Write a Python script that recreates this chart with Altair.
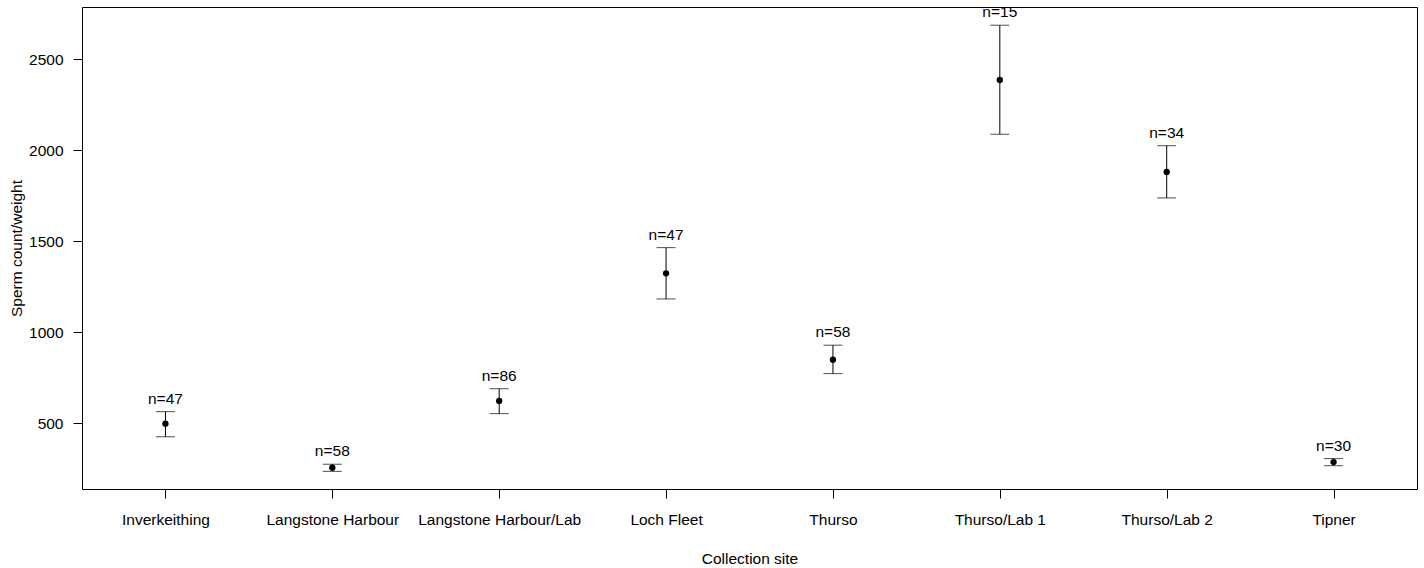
import altair as alt
import pandas as pd

sites = ["Inverkeithing", "Langstone Harbour", "Langstone Harbour/Lab", "Loch Fleet",
         "Thurso", "Thurso/Lab 1", "Thurso/Lab 2", "Tipner"]
means = [498, 256, 623, 1324, 849, 2386, 1881, 287]
upper = [564, 275, 690, 1465, 929, 2687, 2025, 306]
lower = [426, 236, 553, 1183, 773, 2088, 1738, 267]
counts = [47, 58, 86, 47, 58, 15, 34, 30]
labels = ["n=%d" % c for c in counts]

df = pd.DataFrame({"site": sites, "mean": means, "upper": upper, "lower": lower, "label": labels})

FONT = "Liberation Sans"

x_enc = alt.X("site:N", sort=sites, scale=alt.Scale(type="point", padding=0.5),
              axis=alt.Axis(title="Collection site", labelAngle=0, labelPadding=14,
                            titleY=74, titleBaseline="alphabetic"))
y_scale = alt.Scale(domain=[139, 2787], nice=False, zero=False)

base = alt.Chart(df)

bars = base.mark_rule(color="#000", strokeWidth=1).encode(
    x=x_enc,
    y=alt.Y("lower:Q", scale=y_scale,
            axis=alt.Axis(title="Sperm count/weight", values=[500, 1000, 1500, 2000, 2500],
                          format="d", labelPadding=10, titleX=-61, titleBaseline="alphabetic",
                          titleAngle=-90)),
    y2="upper:Q",
)
cap_hi = base.mark_tick(color="#000", thickness=1, size=19).encode(
    x=alt.X("site:N", sort=sites), y=alt.Y("upper:Q"))
cap_lo = base.mark_tick(color="#000", thickness=1, size=19).encode(
    x=alt.X("site:N", sort=sites), y=alt.Y("lower:Q"))
pts = base.mark_circle(color="#000", opacity=1, size=40).encode(
    x=alt.X("site:N", sort=sites), y=alt.Y("mean:Q"))
txt = base.mark_text(font=FONT, fontSize=15.5, color="#000", baseline="alphabetic", dy=-8).encode(
    x=alt.X("site:N", sort=sites), y=alt.Y("upper:Q"), text="label:N")

chart = alt.layer(bars, cap_hi, cap_lo, pts, txt).properties(
    width=1335, height=482,
    autosize=alt.AutoSizeParams(type="none"),
    padding={"left": 82, "top": 7, "right": 7, "bottom": 79},
    background="white",
).configure_view(
    stroke="#000", strokeWidth=1
).configure_axis(
    domain=False, grid=False, ticks=True, tickColor="#000", tickSize=9, tickWidth=1,
    labelFont=FONT, labelFontSize=15.5, labelColor="#000",
    titleFont=FONT, titleFontSize=15.5, titleColor="#000", titleFontWeight="normal",
)

chart.save("out.html", embed_options={"renderer": "svg", "actions": False})
